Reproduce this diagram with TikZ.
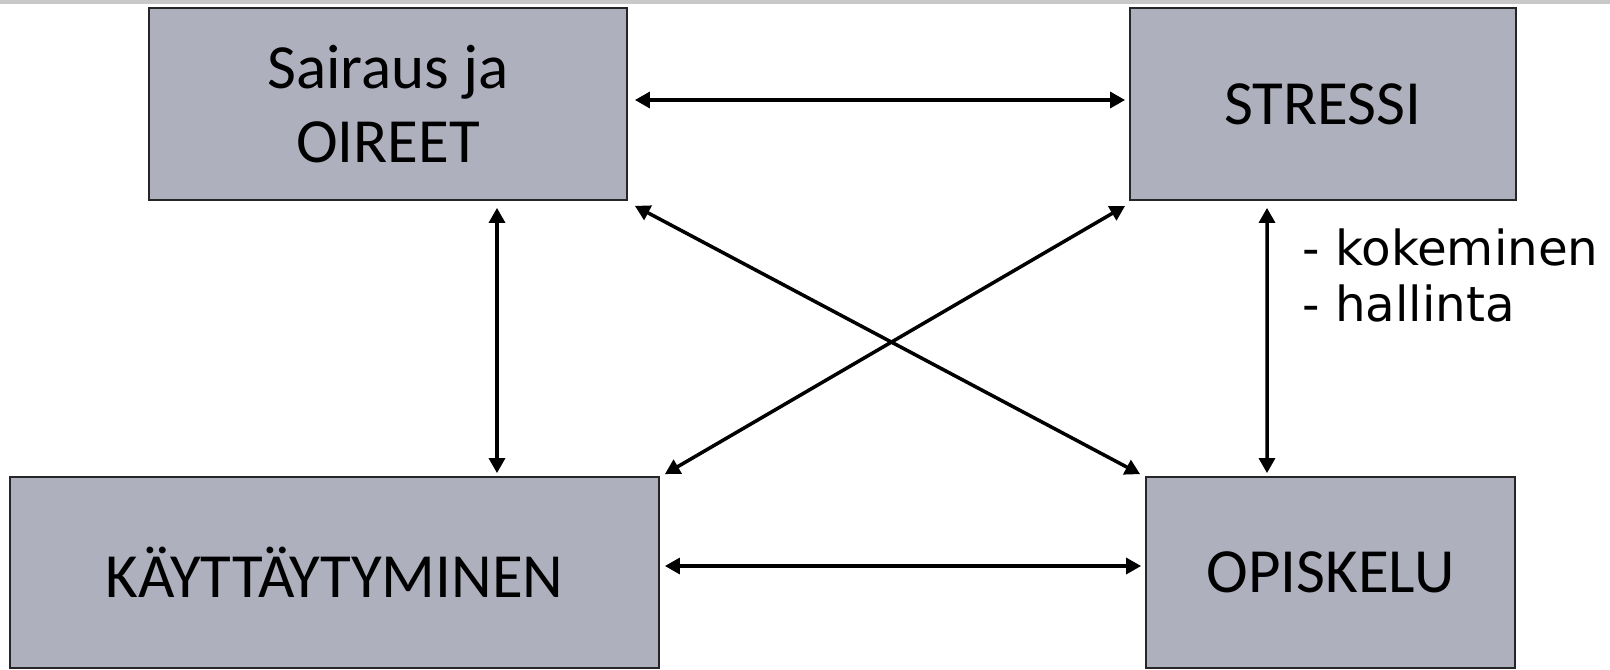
\documentclass[tikz,border=0pt]{standalone}
\usepackage{fontspec}
\setmainfont{Carlito}
\newfontfamily\notefont{DejaVu Sans}
\usetikzlibrary{arrows.meta}
\definecolor{boxgray}{RGB}{174,176,190}
\definecolor{bandgray}{RGB}{200,200,200}
\tikzset{
  factor/.style={draw=black!85,line width=1pt,fill=boxgray,align=center,inner sep=0pt,font=\fontsize{35.8}{42}\selectfont},
  twoway/.style={{Triangle[length=8.5pt,width=9pt]}-{Triangle[length=8.5pt,width=9pt]},line width=2pt},
}
\begin{document}
\begin{tikzpicture}
\useasboundingbox (0,0) rectangle (32.2,-13.38);
\fill[bandgray] (0,0) rectangle (32.2,-0.08);
\node[factor,minimum width=9.56cm,minimum height=3.84cm] (oireet) at (7.76,-2.08) {Sairaus ja\\OIREET};
\node[factor,minimum width=7.72cm,minimum height=3.84cm] (stressi) at (26.46,-2.08) {STRESSI};
\node[factor,minimum width=12.98cm,minimum height=3.82cm] (kaytt) at (6.69,-11.45) {KÄYTTÄYTYMINEN};
\node[factor,minimum width=7.38cm,minimum height=3.82cm] (opiskelu) at (26.61,-11.45) {OPISKELU};
\node[anchor=north west,inner sep=0pt,align=left,font=\notefont\fontsize{27.5}{32}\selectfont] (keinot) at (26.04,-4.56) {- kokeminen\\- hallinta};
\draw[twoway] ([shift={(0.14,0.08)}]oireet.east) -- ([shift={(-0.08,0.08)}]stressi.west);
\draw[twoway] ([shift={(0.1,0.13)}]kaytt.east) -- ([shift={(-0.08,0.13)}]opiskelu.west);
\draw[twoway] ([shift={(2.18,-0.14)}]oireet.south) -- ([shift={(3.25,0.06)}]kaytt.north);
\draw[twoway] ([shift={(-1.12,-0.14)}]stressi.south) -- ([shift={(-1.27,0.06)}]opiskelu.north);
\draw[twoway] ([shift={(0.14,-0.1)}]oireet.south east) -- ([shift={(-0.1,0.04)}]opiskelu.north west);
\draw[twoway] ([shift={(-0.08,-0.1)}]stressi.south west) -- ([shift={(0.1,0.04)}]kaytt.north east);
\end{tikzpicture}
\end{document}
